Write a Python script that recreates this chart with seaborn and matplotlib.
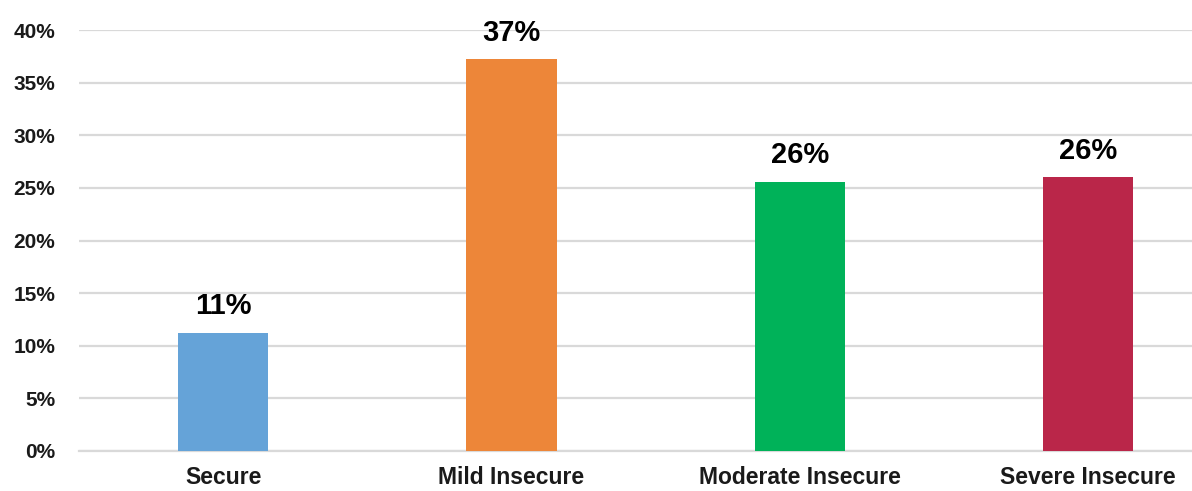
import seaborn as sns
import pandas as pd
import matplotlib.pyplot as plt
from matplotlib.ticker import PercentFormatter

categories = ['Secure', 'Mild Insecure', 'Moderate Insecure', 'Severe Insecure']
shares = [0.1125, 0.372, 0.256, 0.260]
bar_colors = ['#65A3D8', '#ED8639', '#00B259', '#BA2649']

df = pd.DataFrame({'category': categories, 'share': shares})

sns.set_style('white')
plt.rcParams['font.family'] = ['Liberation Sans', 'DejaVu Sans']

fig = plt.figure(figsize=(11.92, 4.91), dpi=100)
ax = fig.add_axes([79 / 1192, 40 / 491, (1192 - 79) / 1192, 421 / 491])

sns.barplot(data=df, x='category', y='share', hue='category',
            palette=bar_colors, saturation=1, width=0.3125, linewidth=0,
            legend=False, ax=ax, zorder=3)

ax.set_ylim(0, 0.40)
ax.set_xlim(-0.5, 3.36)
ax.set_yticks([i * 0.05 for i in range(9)])
ax.yaxis.set_major_formatter(PercentFormatter(1.0, decimals=0))
ax.grid(axis='y', color='#D9D9D9', linewidth=1.6, zorder=0)
ax.grid(axis='x', visible=False)
for side in ['top', 'right', 'left']:
    ax.spines[side].set_visible(False)
ax.spines['bottom'].set_color('#D9D9D9')
ax.spines['bottom'].set_linewidth(1.6)
ax.tick_params(axis='y', length=0, pad=17, labelsize=15)
ax.tick_params(axis='x', length=0, pad=11, labelsize=16.5)
for lbl in ax.get_xticklabels() + ax.get_yticklabels():
    lbl.set_fontweight('bold')
    lbl.set_color('#1a1a1a')
ax.set_xlabel('')
ax.set_ylabel('')

for cont in ax.containers:
    ax.bar_label(cont, labels=[f'{v * 100:.0f}%' for v in cont.datavalues],
                 padding=9, fontsize=21, fontweight='bold', color='black')

fig.savefig('out.png', dpi=100)
